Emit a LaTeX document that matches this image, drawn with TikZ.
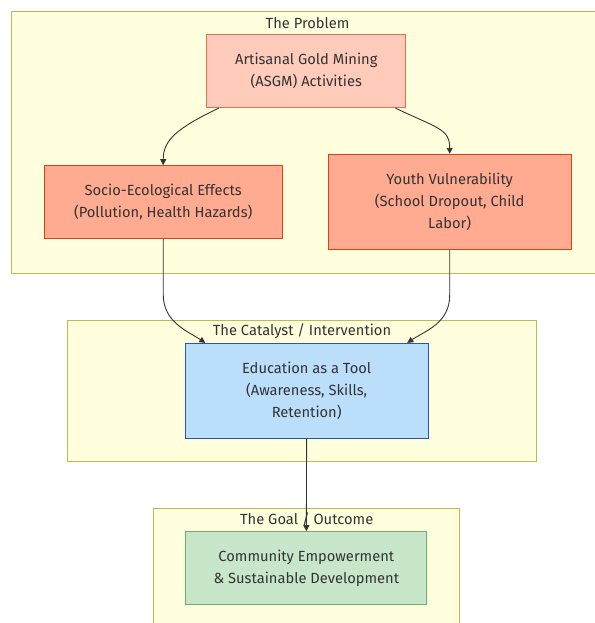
\documentclass[tikz,border=0pt]{standalone}
\usepackage{fontspec}
\setmainfont{Fira Sans}
\usepackage{xcolor}
\usepackage{tikz}
\usetikzlibrary{arrows.meta}
\definecolor{ink}{HTML}{333333}
\definecolor{grp}{HTML}{FFFFDE}
\definecolor{grpline}{HTML}{BBBB55}
\definecolor{mine}{HTML}{FFCCBC}
\definecolor{mineline}{HTML}{E2714F}
\definecolor{harm}{HTML}{FFAB91}
\definecolor{harmline}{HTML}{D84315}
\definecolor{edu}{HTML}{BBDEFB}
\definecolor{eduline}{HTML}{2A56A8}
\definecolor{goal}{HTML}{C8E6C9}
\definecolor{goalline}{HTML}{6AAF6A}

\begin{document}
\begin{tikzpicture}[x=1pt, y=-1pt, every node/.style={font=\fontsize{14.7pt}{22pt}\selectfont, text=ink}, cluster/.style={draw=grpline, fill=grp, line width=1pt}, box/.style={draw, line width=1pt, align=center, inner sep=0pt}, title/.style={inner sep=0pt}, arr/.style={-{Triangle[length=6pt,width=6pt]}, draw=ink, line width=0.9pt}]
\useasboundingbox (0,0) rectangle (594,623);
% groups
\draw[cluster] (11.4,11.7) rectangle (597,273);
\draw[cluster] (67.3,320) rectangle (536.7,461.7);
\draw[cluster] (153.3,508.3) rectangle (459.3,630);
\node[title] (t1) at (307.6,22.7) {The Problem};
\node[title] (t2) at (302,331) {The Catalyst / Intervention};
\node[title] (t3) at (306.7,519.3) {The Goal / Outcome};
% nodes
\node[box, fill=mine, draw=mineline, minimum width=198.7pt, minimum height=72.7pt] (asgm) at (306.3,71.3) {Artisanal Gold Mining\\(ASGM) Activities};
\node[box, fill=harm, draw=harmline, minimum width=237.7pt, minimum height=73pt] (socio) at (163.2,202.2) {Socio-Ecological Effects\\(Pollution, Health Hazards)};
\node[box, fill=harm, draw=harmline, minimum width=242.6pt, minimum height=95.4pt] (youth) at (449.7,202) {Youth Vulnerability\\(School Dropout, Child\\Labor)};
\node[box, fill=edu, draw=eduline, minimum width=243.3pt, minimum height=94.7pt] (tool) at (306.7,390.7) {Education as a Tool\\(Awareness, Skills,\\Retention)};
\node[box, fill=goal, draw=goalline, minimum width=240.7pt, minimum height=72.6pt] (outcome) at (306.3,568) {Community Empowerment\\\& Sustainable Development};
% edges
\draw[arr] ([xshift=12.3pt]asgm.south west) .. controls +(-42,20) and +(0,-25) .. (socio.north);
\draw[arr] ([xshift=-10.7pt]asgm.south east) .. controls +(42,20) and +(0,-25) .. (youth.north);
\draw[arr] (socio.south) -- ++(0,55) .. controls +(0,28) and +(-18,-12) .. ([xshift=20.7pt]tool.north west);
\draw[arr] (youth.south) -- ++(0,45) .. controls +(0,28) and +(18,-12) .. ([xshift=-21.6pt]tool.north east);
\draw[arr] (tool) -- (outcome);
\end{tikzpicture}
\end{document}
